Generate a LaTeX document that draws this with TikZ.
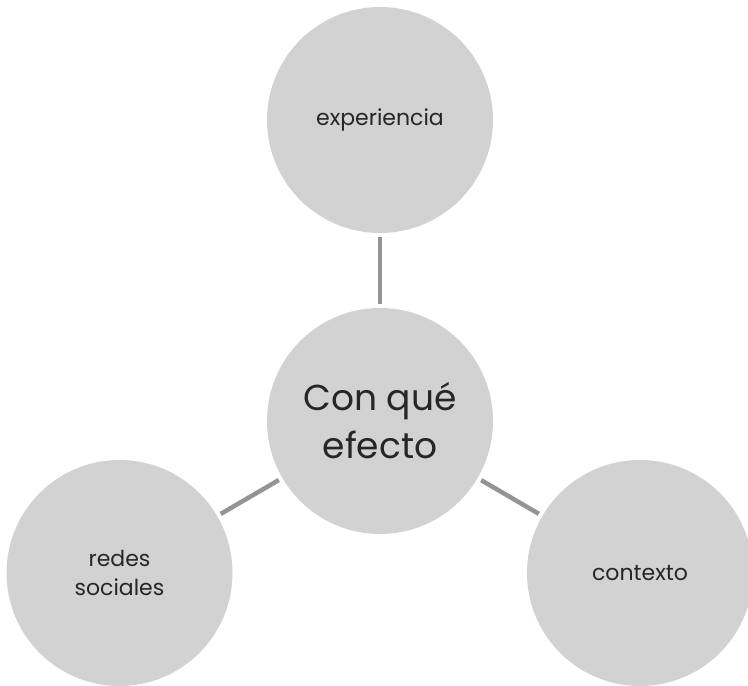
\documentclass[tikz,border=0pt]{standalone}
\usepackage{fontspec}
\setmainfont{Poppins}
\tikzset{
	idea/.style={circle, fill=gray!35!white, draw=none, minimum size=226pt, inner sep=0pt, align=center, text=black!85},
	tie/.style={line width=4.5pt, color=black!42, shorten <=4pt, shorten >=4pt}
}
\begin{document}
\begin{tikzpicture}[x=1pt, y=1pt]
	\useasboundingbox (0,0) rectangle (748,686);

	\node[idea, font=\fontsize{36}{48}\selectfont](effect) at (380,265){Con qué\\efecto};
	\node[idea, font=\fontsize{22}{29}\selectfont](experience) at (380,566){experiencia};
	\node[idea, font=\fontsize{22}{29}\selectfont](networks) at (119.5,113){redes\\sociales};
	\node[idea, font=\fontsize{22}{29}\selectfont](context) at (640,113){contexto};

	\draw [tie] (effect) -- (experience);
	\draw [tie] (effect) -- (networks);
	\draw [tie] (effect) -- (context);

\end{tikzpicture}
\end{document}
